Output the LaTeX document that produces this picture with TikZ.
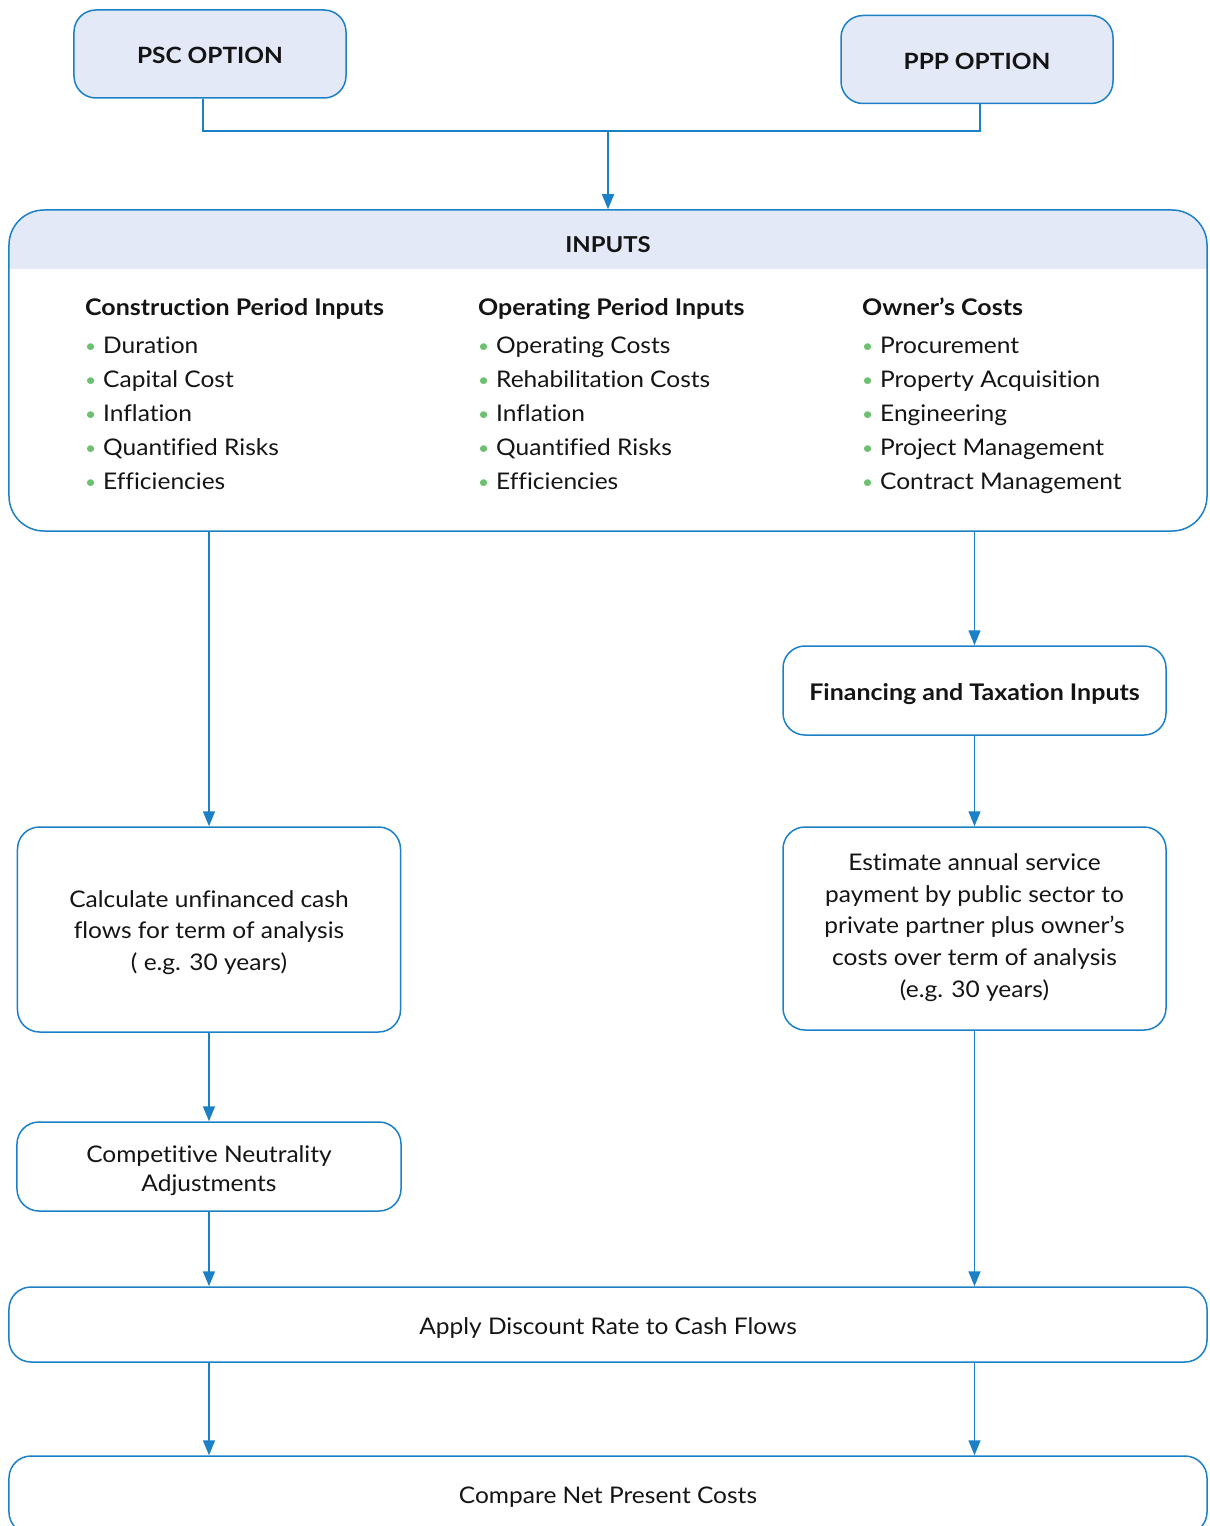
\documentclass[tikz,border=0pt]{standalone}
\usepackage{fontspec}
\setmainfont{Lato}[Ligatures={NoCommon}, FakeStretch=1.07, BoldFeatures={FakeStretch=1.09}]
\usetikzlibrary{arrows.meta}
\definecolor{lineblue}{HTML}{1B80C6}
\definecolor{hdrfill}{HTML}{E3E9F7}
\definecolor{bgreen}{HTML}{6DC070}
\definecolor{txt}{HTML}{141414}
\newcommand{\bodyfont}{\fontsize{23}{32}\selectfont}
\newcommand{\bul}{\makebox[18bp][l]{\raisebox{0.5bp}{\textcolor{bgreen}{\fontsize{18}{18}\selectfont •}}}}
\newcommand{\dn}[2][4bp]{\raisebox{-#1}[\height][\depth]{\begin{tabular}{@{}c@{}}#2\end{tabular}}}
\tikzset{
  box/.style={draw=lineblue, line width=1.5bp, rounded corners=22bp, inner sep=0pt, text=txt, font=\bodyfont},
  optbox/.style={box, fill=hdrfill, minimum width=272bp, minimum height=88bp, font=\fontsize{22.5}{30}\selectfont\bfseries},
  conn/.style={draw=lineblue, line width=1.5bp},
  arr/.style={conn, -{Triangle[length=15bp,width=12bp]}},
  colhead/.style={anchor=base west, inner sep=0pt, text=txt, font=\fontsize{23}{28}\selectfont\bfseries},
  item/.style={anchor=base west, inner sep=0pt, text=txt, font=\bodyfont},
}
\begin{document}
\begin{tikzpicture}[x=1bp,y=-1bp]
\useasboundingbox (0,0) rectangle (1209,1526);
% option boxes
\node[optbox] (psc) at (210,54) {\dn[4bp]{PSC OPTION}};
\node[optbox] (ppp) at (977,59.5) {\dn[4bp]{PPP OPTION}};
% inputs box
\node[box, rounded corners=35bp, minimum width=1198bp, minimum height=321bp,
  path picture={\fill[hdrfill, sharp corners] (path picture bounding box.north west) rectangle ([yshift=-59bp]path picture bounding box.north east);}]
  (inputs) at (608,370.5) {};
\node[inner sep=0pt, text=txt, font=\fontsize{22}{28}\selectfont\bfseries] (inputstitle) at (608,245) {INPUTS};
% columns
\node[colhead] (h1) at (85,315) {Construction Period Inputs};
\node[colhead] (h2) at (478,315) {Operating Period Inputs};
\node[colhead] (h3) at (862,315) {Owner’s Costs};
\foreach \t [count=\i] in {Duration,Capital Cost,Inflation,Quantified Risks,Efficiencies}
  \node[item] (a\i) at (85,{353+34*(\i-1)}) {\bul\t};
\foreach \t [count=\i] in {Operating Costs,Rehabilitation Costs,Inflation,Quantified Risks,Efficiencies}
  \node[item] (b\i) at (478,{353+34*(\i-1)}) {\bul\t};
\foreach \t [count=\i] in {Procurement,Property Acquisition,Engineering,Project Management,Contract Management}
  \node[item] (c\i) at (862,{353+34*(\i-1)}) {\bul\t};
% process boxes
\node[box, minimum width=383bp, minimum height=89bp, font=\fontsize{23}{28}\selectfont\bfseries] (fin) at (974.5,690.5) {\dn[4bp]{Financing and Taxation Inputs}};
\node[box, minimum width=383bp, minimum height=203bp] (est) at (974.5,928.5) {\dn[-1bp]{Estimate annual service\\payment by public sector to\\private partner plus owner’s\\costs over term of analysis\\(e.g. 30 years)}};
\node[box, minimum width=383bp, minimum height=205bp] (calc) at (209,929.5) {\dn[3bp]{Calculate unfinanced cash\\flows for term of analysis\\( e.g. 30 years)}};
\node[box, minimum width=384bp, minimum height=89bp, font=\fontsize{23}{29}\selectfont] (comp) at (209,1166.5) {\dn[5bp]{Competitive Neutrality\\Adjustments}};
\node[box, minimum width=1198bp, minimum height=75bp] (apply) at (608,1324.5) {\dn[4bp]{Apply Discount Rate to Cash Flows}};
\node[box, minimum width=1198bp, minimum height=78bp] (compare) at (608,1495) {\dn[2bp]{Compare Net Present Costs}};
% connectors
\coordinate (jl) at (203,131);
\coordinate (jr) at (980,131);
\coordinate (jm) at (608,131);
\draw[conn] (psc.south -| jl) -- (jl) -- (jr) -- (ppp.south -| jr);
\draw[arr] (jm) -- (inputs.north -| jm);
\draw[arr] (inputs.south -| calc.north) -- (calc.north);
\draw[arr] (inputs.south -| fin.north) -- (fin.north);
\draw[arr] (fin.south) -- (est.north);
\draw[arr] (calc.south) -- (comp.north);
\draw[arr] (comp.south) -- (apply.north -| comp.south);
\draw[arr] (est.south) -- (apply.north -| est.south);
\draw[arr] (apply.south -| comp.south) -- (compare.north -| comp.south);
\draw[arr] (apply.south -| est.south) -- (compare.north -| est.south);
\end{tikzpicture}
\end{document}
